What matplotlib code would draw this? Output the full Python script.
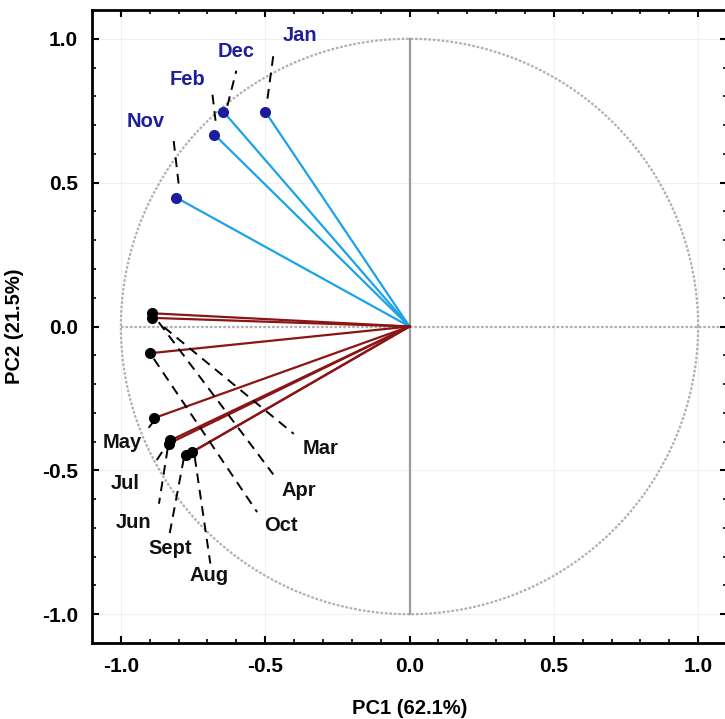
import matplotlib
matplotlib.use("Agg")
import matplotlib.pyplot as plt
import numpy as np

plt.rcParams['font.family'] = ['Liberation Sans', 'DejaVu Sans']
plt.rcParams['font.weight'] = 'bold'

# loadings
winter_months = ["Jan", "Dec", "Feb", "Nov"]
winter_pc1 = [-0.50, -0.645, -0.676, -0.808]
winter_pc2 = [0.747, 0.747, 0.667, 0.448]

other_months = ["Mar", "Apr", "Oct", "May", "Jul", "Jun", "Sept", "Aug"]
other_pc1 = [-0.892, -0.892, -0.900, -0.884, -0.829, -0.834, -0.773, -0.753]
other_pc2 = [0.046, 0.030, -0.093, -0.318, -0.396, -0.407, -0.448, -0.436]

# label placement: (text x, text y, leader start x, y, leader end x, y)
label_pos = {
    "Jan": (-0.38, 1.01, -0.492, 0.792, -0.471, 0.948),
    "Dec": (-0.60, 0.955, -0.631, 0.767, -0.600, 0.889),
    "Feb": (-0.77, 0.858, -0.672, 0.715, -0.683, 0.809),
    "Nov": (-0.915, 0.712, -0.800, 0.497, -0.818, 0.653),
    "Mar": (-0.308, -0.425, -0.851, -0.002, -0.401, -0.373),
    "Apr": (-0.384, -0.569, -0.869, 0.015, -0.472, -0.514),
    "Oct": (-0.447, -0.691, -0.886, -0.112, -0.528, -0.645),
    "May": (-0.996, -0.402, -0.888, -0.332, -0.904, -0.352),
    "Jul": (-0.984, -0.546, -0.857, -0.436, -0.888, -0.483),
    "Jun": (-0.955, -0.680, -0.838, -0.425, -0.868, -0.616),
    "Sept": (-0.828, -0.772, -0.782, -0.459, -0.831, -0.720),
    "Aug": (-0.696, -0.865, -0.744, -0.454, -0.690, -0.824),
}

fig = plt.figure(figsize=(7.25, 7.19), dpi=100)
ax = fig.add_axes([92 / 725, 1 - 643 / 719, 635 / 725, 633 / 719])
ax.set_xlim(-1.1, 1.1)
ax.set_ylim(-1.1, 1.1)

# faint grid
for v in [-1.0, -0.5, 0.5, 1.0]:
    ax.axvline(v, color="#f0f0f0", lw=0.8, zorder=0)
    ax.axhline(v, color="#f0f0f0", lw=0.8, zorder=0)

# unit circle and centre lines
t = np.linspace(0, 2 * np.pi, 400)
ax.plot(np.cos(t), np.sin(t), color="#b0b0b0", lw=1.6, ls=(0, (1.2, 0.8)), zorder=1)
ax.plot([-1.0, 1.1], [0, 0], color="#b0b0b0", lw=1.6, ls=(0, (1.2, 0.8)), zorder=1)
ax.plot([0, 0], [-1.0, 1.0], color="#9a9a9a", lw=1.6, zorder=1)

# vectors
for x, y in zip(winter_pc1, winter_pc2):
    ax.plot([0, x], [0, y], color="#1aa3e8", lw=1.6, zorder=2)
for x, y in zip(other_pc1, other_pc2):
    ax.plot([0, x], [0, y], color="#8b1414", lw=1.6, zorder=2)
ax.plot(winter_pc1, winter_pc2, "o", color="#1c1c9c", ms=7, zorder=3)
ax.plot(other_pc1, other_pc2, "o", color="black", ms=7, zorder=3)

# labels with dashed leaders
for name in winter_months + other_months:
    tx, ty, x0, y0, x1, y1 = label_pos[name]
    ax.plot([x0, x1], [y0, y1], color="black", lw=1.4, ls=(0, (5, 3.5)), zorder=2)
    col = "#1f1f99" if name in winter_months else "#111111"
    ax.text(tx, ty, name, color=col, fontsize=14.5, fontweight="bold",
            ha="center", va="center", zorder=4)

ax.set_xticks([-1.0, -0.5, 0.0, 0.5, 1.0])
ax.set_yticks([-1.0, -0.5, 0.0, 0.5, 1.0])
ax.set_xticklabels(["-1.0", "-0.5", "0.0", "0.5", "1.0"])
ax.set_yticklabels(["-1.0", "-0.5", "0.0", "0.5", "1.0"])
ax.set_xticks(np.arange(-1.0, 1.05, 0.1), minor=True)
ax.set_yticks(np.arange(-1.0, 1.05, 0.1), minor=True)
ax.tick_params(which="major", direction="in", length=5, width=1.5, top=True, right=True,
               labelsize=15, pad=10)
ax.tick_params(which="minor", direction="in", length=3, width=1.2, top=True, right=True)
for s in ax.spines.values():
    s.set_linewidth(2)

ax.set_xlabel("PC1 (62.1%)", fontsize=14.5, fontweight="bold", labelpad=17)
ax.set_ylabel("PC2 (21.5%)", fontsize=14.5, fontweight="bold", labelpad=13)

fig.savefig("out.png", dpi=100)
